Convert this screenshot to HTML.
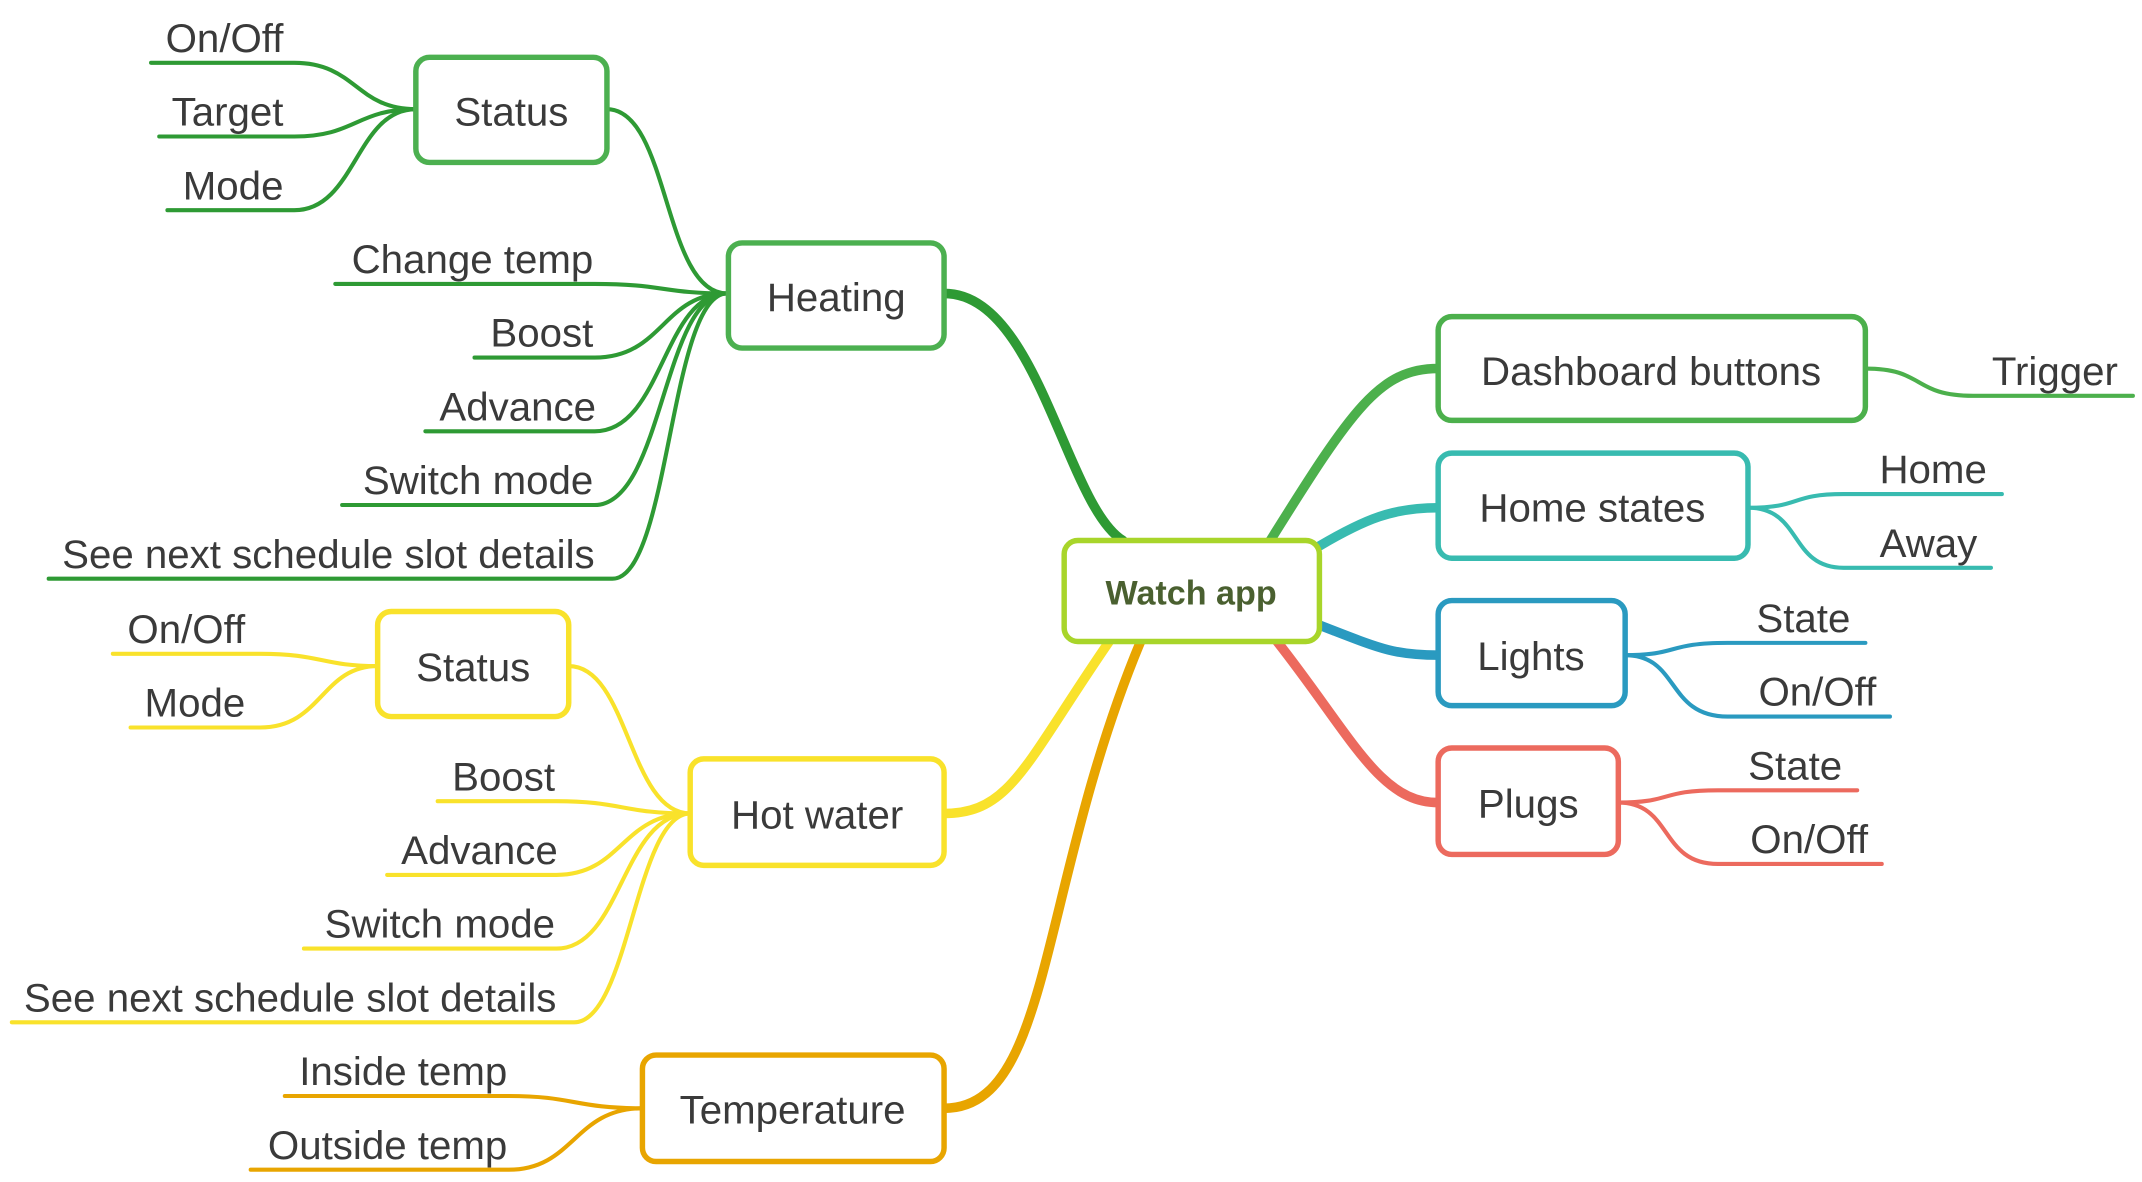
<!DOCTYPE html>
<html><head><meta charset="utf-8"><style>
html,body{margin:0;padding:0;background:#fff;}
svg{display:block;}
text{font-family:"Liberation Sans",sans-serif;font-size:29.5px;fill:#3a3a3a;}
</style></head><body>
<svg width="2142" height="1182" viewBox="0 0 1568 866" xmlns="http://www.w3.org/2000/svg">
<g fill="none" stroke-linecap="round">
<path d="M691,215 C760,215 780,370 822,396" stroke="#2e9a34" stroke-width="7"/>
<path d="M812,470 C750,560 740,596 691,596" stroke="#f9e22b" stroke-width="7"/>
<path d="M835,470 C760,650 770,812 691,812" stroke="#e8a500" stroke-width="7"/>
<path d="M930,396 C990,300 1010,270 1053,270" stroke="#4cb04c" stroke-width="7"/>
<path d="M966,400 C1000,380 1020,372 1053,372" stroke="#38bbb0" stroke-width="7"/>
<path d="M966,458 C1010,475 1020,480 1053,480" stroke="#2a9ac0" stroke-width="7"/>
<path d="M935,470 C990,540 1010,588 1053,588" stroke="#ec6a5e" stroke-width="7"/>
<g stroke="#2e9a34" stroke-width="3">
<path d="M110,46H215C260,46 260,80 304,80"/>
<path d="M116,100H215C260,100 260,80 304,80"/>
<path d="M122,154H215C260,154 260,80 304,80"/>
<path d="M444,80C490,80 485,215 532,215"/>
<path d="M245,208H435C485,208 485,215 532,215"/>
<path d="M347,262H435C485,262 485,215 532,215"/>
<path d="M311,316H435C485,316 485,215 532,215"/>
<path d="M250,370H435C485,370 485,215 532,215"/>
<path d="M35,424H448C490,424 490,215 532,215"/>
</g>
<g stroke="#f9e22b" stroke-width="3">
<path d="M82,479H190C235,479 235,488 276,488"/>
<path d="M95,533H190C235,533 235,488 276,488"/>
<path d="M416,488C460,488 460,596 505,596"/>
<path d="M320,587H407C455,587 455,596 505,596"/>
<path d="M283,641H407C455,641 455,596 505,596"/>
<path d="M222,695H407C455,695 455,596 505,596"/>
<path d="M8,749H420C460,749 465,596 505,596"/>
</g>
<g stroke="#e8a500" stroke-width="3">
<path d="M208,803H372C420,803 420,812 470,812"/>
<path d="M183,857H372C420,857 420,812 470,812"/>
</g>
<g stroke="#4cb04c" stroke-width="3"><path d="M1366,270 C1410,270 1400,290 1445,290 H1562"/></g>
<g stroke="#38bbb0" stroke-width="3">
<path d="M1280,372 C1320,372 1310,362 1350,362 H1466"/>
<path d="M1280,372 C1320,372 1310,416 1350,416 H1458"/>
</g>
<g stroke="#2a9ac0" stroke-width="3">
<path d="M1190,480 C1230,480 1220,471 1265,471 H1366"/>
<path d="M1190,480 C1230,480 1220,525 1265,525 H1384"/>
</g>
<g stroke="#ec6a5e" stroke-width="3">
<path d="M1185,588 C1225,588 1215,579 1258,579 H1360"/>
<path d="M1185,588 C1225,588 1215,633 1258,633 H1378"/>
</g>
</g>
<g fill="#fff" stroke-width="4">
<rect x="779" y="396" width="187" height="74" rx="10" stroke="#a8d52a"/>
<rect x="533" y="178" width="158" height="77" rx="10" stroke="#4cb050"/>
<rect x="304" y="42" width="140" height="77" rx="10" stroke="#4cb050"/>
<rect x="505" y="556" width="186" height="78" rx="10" stroke="#f9e22b"/>
<rect x="276" y="448" width="140" height="77" rx="10" stroke="#f9e22b"/>
<rect x="470" y="773" width="221" height="78" rx="10" stroke="#e8a500"/>
<rect x="1053" y="232" width="313" height="76" rx="10" stroke="#4cb04c"/>
<rect x="1053" y="332" width="227" height="77" rx="10" stroke="#38bbb0"/>
<rect x="1053" y="440" width="137" height="77" rx="10" stroke="#2a9ac0"/>
<rect x="1053" y="548" width="132" height="78" rx="10" stroke="#ec6a5e"/>
</g>
<g text-anchor="middle">
<text x="872" y="443" style="font-weight:bold;font-size:25px;fill:#4a6030">Watch app</text>
<text x="612" y="228">Heating</text>
<text x="374" y="92">Status</text>
<text x="598" y="607">Hot water</text>
<text x="346" y="499">Status</text>
<text x="580" y="823">Temperature</text>
<text x="1209" y="282">Dashboard buttons</text>
<text x="1166" y="382">Home states</text>
<text x="1121" y="491">Lights</text>
<text x="1119" y="599">Plugs</text>
</g>
<g text-anchor="end">
<text x="207" y="38">On/Off</text>
<text x="207" y="92">Target</text>
<text x="207" y="146">Mode</text>
<text x="434" y="200">Change temp</text>
<text x="434" y="254">Boost</text>
<text x="436" y="308">Advance</text>
<text x="434" y="362">Switch mode</text>
<text x="435" y="416">See next schedule slot details</text>
<text x="179" y="471">On/Off</text>
<text x="179" y="525">Mode</text>
<text x="406" y="579">Boost</text>
<text x="408" y="633">Advance</text>
<text x="406" y="687">Switch mode</text>
<text x="407" y="741">See next schedule slot details</text>
<text x="371" y="795">Inside temp</text>
<text x="371" y="849">Outside temp</text>
<text x="1551" y="282">Trigger</text>
<text x="1455" y="354">Home</text>
<text x="1448" y="408">Away</text>
<text x="1355" y="463">State</text>
<text x="1374" y="517">On/Off</text>
<text x="1349" y="571">State</text>
<text x="1368" y="625">On/Off</text>
</g>
</svg>
</body></html>
